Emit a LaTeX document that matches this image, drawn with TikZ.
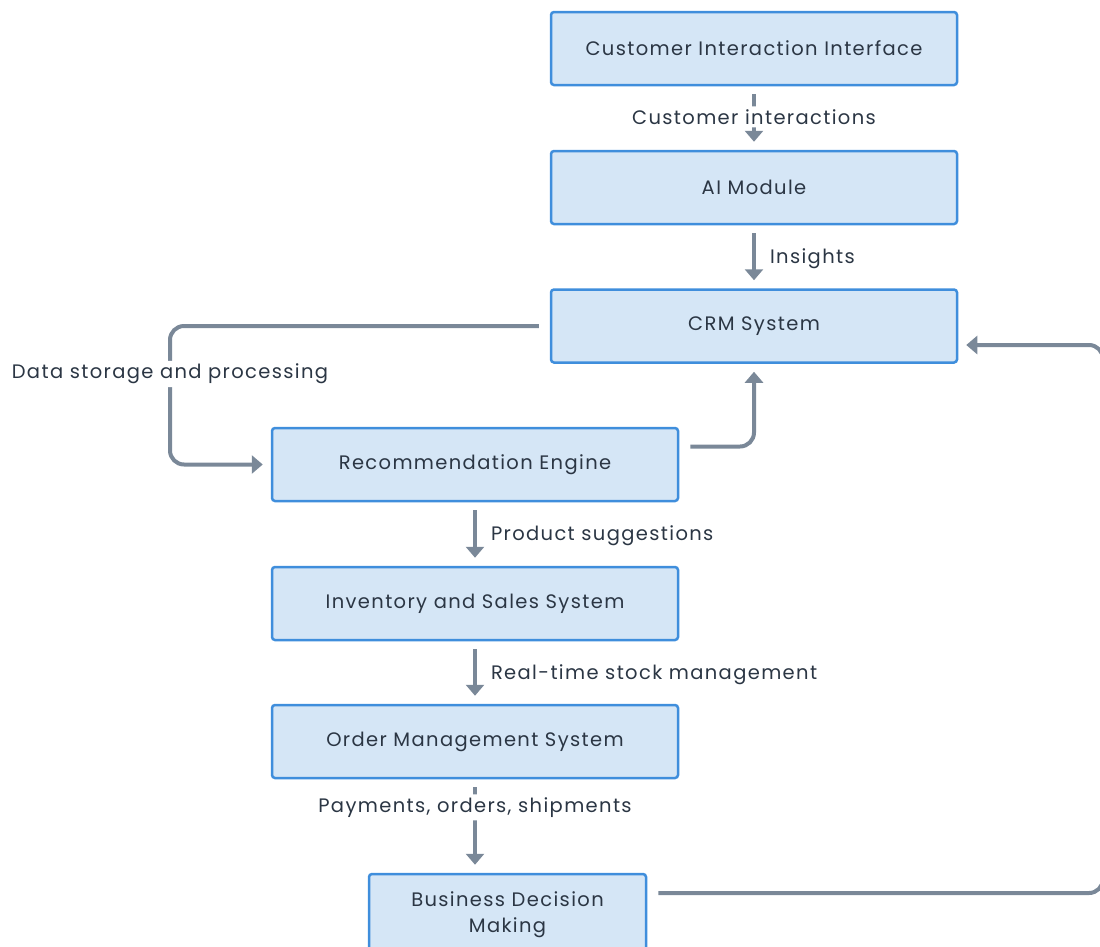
\documentclass[tikz,border=0pt]{standalone}
\usepackage{fontspec}
\setmainfont[LetterSpace=7]{Poppins}
\usetikzlibrary{arrows.meta}
\definecolor{boxfill}{HTML}{D5E6F6}
\definecolor{boxline}{HTML}{3F8EDC}
\definecolor{wire}{HTML}{7A8898}
\definecolor{ink}{HTML}{2B3644}
\tikzset{
  stage/.style={draw=boxline, fill=boxfill, line width=2.5pt, rounded corners=3pt,
    minimum width=406pt, minimum height=73pt, inner sep=0pt, font=\fontsize{19.5}{26}\selectfont,
    text=ink, align=center},
  flow/.style={draw=wire, line width=4pt, rounded corners=14pt,
    -{Triangle[width=18pt,length=11pt]}, shorten >=8pt, shorten <=8pt},
  tag/.style={font=\fontsize{19.5}{22}\selectfont, text=ink, inner sep=2pt, yshift=-2pt},
  cut/.style={tag, fill=white, inner ysep=3pt}
}
\begin{document}
\begin{tikzpicture}[x=1pt,y=-1pt]
\useasboundingbox (0,0) rectangle (1100,946);
\clip (0,0) rectangle (1100,946);
\node[stage] (cii) at (754,48.5) {Customer Interaction Interface};
\node[stage] (ai) at (754,187.5) {AI Module};
\node[stage] (crm) at (754,326) {CRM System};
\node[stage] (rec) at (475,464.5) {Recommendation Engine};
\node[stage] (inv) at (475,603.5) {Inventory and Sales System};
\node[stage] (ord) at (475,741.5) {Order Management System};
\node[stage, minimum width=277pt, minimum height=82pt] (bdm) at (507.5,915) {Business Decision\\Making};

\draw[flow] (cii) -- node[cut, pos=0.45] {Customer interactions} (ai);
\draw[flow] (ai) -- node[tag, right=12pt] {Insights} (crm);
\draw[flow, shorten <=11pt] (crm.west) -| (170,418) node[cut, pos=0.75] {Data storage and processing} |- (rec.west);
\draw[flow, shorten <=11pt] ([yshift=18pt]rec.east) -| (crm.south);
\draw[flow] (rec) -- node[tag, right=12pt] {Product suggestions} (inv);
\draw[flow] (inv) -- node[tag, right=12pt] {Real-time stock management} (ord);
\draw[flow] (ord) -- node[cut, pos=0.28] {Payments, orders, shipments} (ord |- bdm.north);
\draw[flow, shorten <=11pt] ([yshift=17.5pt]bdm.east |- 0,910.5) -| (1103,600) |- ([yshift=-19pt]crm.east);
\end{tikzpicture}
\end{document}
